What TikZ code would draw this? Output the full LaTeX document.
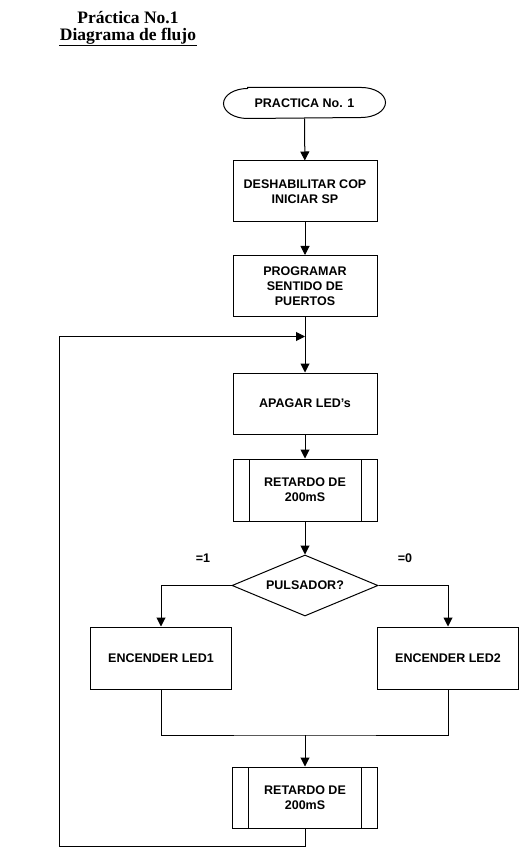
\documentclass[tikz,border=0pt]{standalone}
\usepackage{fontspec}
\setmainfont{Liberation Sans}
\newfontfamily\titlefont{Liberation Serif}
\usetikzlibrary{arrows.meta,shapes.geometric}
\begin{document}
\begin{tikzpicture}[x=1pt,y=1pt,line width=1pt,
  txt/.style={font=\fontsize{12.5}{15}\selectfont\bfseries,align=center},
  procbox/.style={draw,txt,rectangle,minimum width=144pt,minimum height=61pt,inner sep=0pt},
  subbox/.style={procbox,path picture={
     \draw[line width=1pt] ([xshift=16pt]path picture bounding box.north west) -- ([xshift=16pt]path picture bounding box.south west);
     \draw[line width=1pt] ([xshift=-16pt]path picture bounding box.north east) -- ([xshift=-16pt]path picture bounding box.south east);}},
  decbox/.style={draw,txt,diamond,aspect=2.4,minimum width=146pt,minimum height=61pt,inner sep=0pt},
  arr/.style={-{Triangle[length=9pt,width=9pt]}},
  lbl/.style={font=\fontsize{12.5}{14}\selectfont\bfseries},
  ttl/.style={font=\titlefont\fontsize{17.5}{20}\selectfont\bfseries,anchor=base,inner sep=0pt}
]
\useasboundingbox (0,0) rectangle (530,-858);

% title
\node[ttl] (t1) at (128,-24) {Práctica No.1};
\node[ttl] (t2) at (128,-41) {Diagrama de flujo};
\draw[line width=1.3pt] ([yshift=-4.5pt]t2.base west) -- ([yshift=-4.5pt]t2.base east);

% start terminal
\node[txt,minimum width=161pt,minimum height=30pt,inner sep=0pt] (start) at (304.5,-103) {PRACTICA No. 1};
\draw ([xshift=24pt]start.north west) -- ([xshift=-24pt]start.north east)
  arc[start angle=90,end angle=-90,x radius=24pt,y radius=15pt]
  -- ([xshift=24pt]start.south west)
  arc[start angle=270,end angle=90,x radius=24pt,y radius=15pt] -- cycle;

\node[procbox] (b1) at (305,-191.5) {DESHABILITAR COP\\INICIAR SP};
\node[procbox] (b2) at (305,-286) {PROGRAMAR\\SENTIDO DE\\PUERTOS};
\node[procbox] (b3) at (305,-403.5) {APAGAR LED{\char"27}s};
\node[subbox,minimum height=62pt] (b4) at (305,-490) {RETARDO DE\\200mS};
\node[decbox] (dec) at (305,-585.5) {PULSADOR?};
\node[procbox,minimum width=141pt,minimum height=62pt] (b5) at (161,-658) {ENCENDER LED1};
\node[procbox,minimum width=141pt,minimum height=62pt] (b6) at (448,-658) {ENCENDER LED2};
\node[subbox,minimum width=145pt] (b7) at (305,-797.5) {RETARDO DE\\200mS};

\node[lbl] (l1) at (203,-558) {=1};
\node[lbl] (l0) at (405,-558) {=0};

\coordinate (j1) at (305,-336.5);
\coordinate (j2) at (305,-735);
\coordinate (c1) at (59,-846);
\coordinate (c2) at (59,-336.5);

\draw[arr] (start) -- (b1);
\draw[arr] (b1) -- (b2);
\draw[arr] (b2) -- (b3);
\draw[arr] (b3) -- (b4);
\draw[arr] (b4) -- (dec);
\draw[arr] (dec.west) -| (b5.north);
\draw[arr] (dec.east) -| (b6.north);
\draw (b5.south) |- (j2) -| (b6.south);
\draw[arr] (j2) -- (b7.north);
\draw[arr] (b7.south) |- (c1) -- (c2) -- (j1);
\end{tikzpicture}
\end{document}
